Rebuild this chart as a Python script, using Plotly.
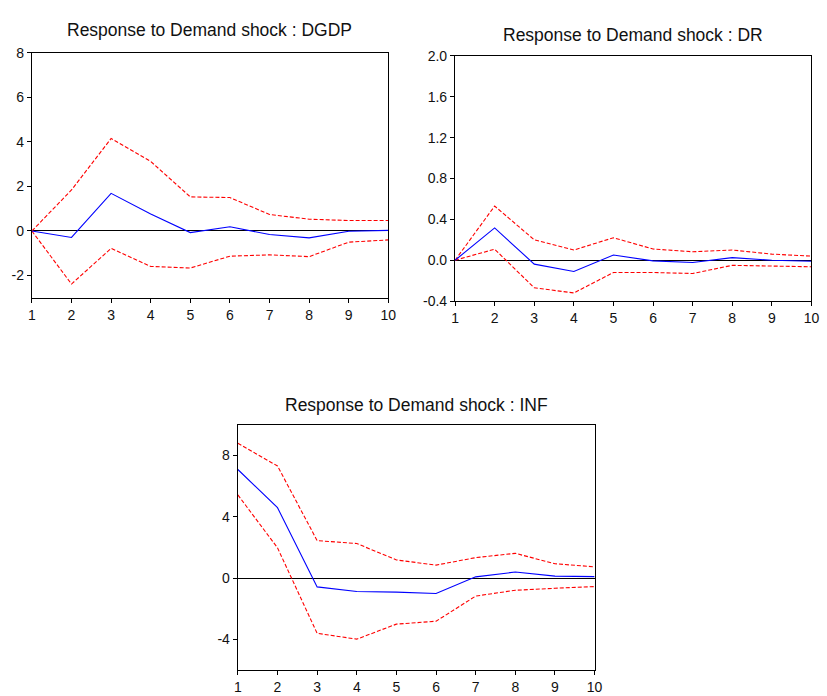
import plotly.graph_objects as go

periods = [1, 2, 3, 4, 5, 6, 7, 8, 9, 10]

dgdp_resp = [0.0, -0.29, 1.69, 0.76, -0.07, 0.19, -0.16, -0.31, -0.01, 0.03]
dgdp_upper = [0.0, 1.84, 4.15, 3.12, 1.53, 1.50, 0.74, 0.53, 0.47, 0.47]
dgdp_lower = [0.0, -2.38, -0.78, -1.59, -1.66, -1.13, -1.07, -1.15, -0.50, -0.40]

dr_resp = [0.0, 0.316, -0.038, -0.11, 0.051, -0.006, -0.022, 0.025, 0.0, -0.01]
dr_upper = [0.0, 0.53, 0.20, 0.10, 0.22, 0.11, 0.083, 0.10, 0.06, 0.04]
dr_lower = [0.0, 0.108, -0.27, -0.32, -0.12, -0.12, -0.13, -0.05, -0.057, -0.064]

inf_resp = [7.09, 4.60, -0.57, -0.87, -0.91, -1.00, 0.085, 0.40, 0.13, 0.10]
inf_upper = [8.80, 7.32, 2.45, 2.26, 1.19, 0.85, 1.34, 1.62, 0.94, 0.74]
inf_lower = [5.43, 1.98, -3.60, -3.98, -3.00, -2.81, -1.17, -0.79, -0.66, -0.55]

titles = ["Response to Demand shock : DGDP",
          "Response to Demand shock : DR",
          "Response to Demand shock : INF"]

W, H = 827, 696
FONT = "Arial, Liberation Sans, sans-serif"

panels = [
    dict(resp=dgdp_resp, up=dgdp_upper, lo=dgdp_lower,
         x0=28.3, x1=390.0, top=45.7, bot=296.7, yr=[-3, 8],
         tv=[-2, 0, 2, 4, 6, 8], tt=["-2", "0", "2", "4", "6", "8"],
         tx=209, ty=23.0),
    dict(resp=dr_resp, up=dr_upper, lo=dr_lower,
         x0=457.7, x1=819.3, top=49.0, bot=300.0, yr=[-0.4, 2.0],
         tv=[-0.4, 0.0, 0.4, 0.8, 1.2, 1.6, 2.0],
         tt=["-0.4", "0.0", "0.4", "0.8", "1.2", "1.6", "2.0"],
         tx=638, ty=28.0),
    dict(resp=inf_resp, up=inf_upper, lo=inf_lower,
         x0=237.3, x1=599.3, top=426.7, bot=677.7, yr=[-6, 10],
         tv=[-4, 0, 4, 8], tt=["-4", "0", "4", "8"],
         tx=419, ty=406.0),
]

fig = go.Figure()
annotations = []
for i, p in enumerate(panels):
    n = "" if i == 0 else str(i + 1)
    xa, ya = "x" + n, "y" + n
    for ys, color, dash in [(p["up"], "#FF0000", "4px,2px"),
                            (p["lo"], "#FF0000", "4px,2px"),
                            (p["resp"], "#0000FF", "solid")]:
        fig.add_trace(go.Scatter(x=periods, y=ys, mode="lines", xaxis=xa, yaxis=ya,
                                 line=dict(color=color, width=1.1, dash=dash),
                                 showlegend=False, hoverinfo="skip"))
    axis_common = dict(showline=True, linecolor="black", linewidth=1.3, mirror=True,
                       showgrid=False, ticks="outside", ticklen=4, tickwidth=1,
                       tickcolor="black",
                       tickfont=dict(family=FONT, size=14, color="#111111"))
    fig.layout["xaxis" + n] = dict(
        domain=[p["x0"] / W, p["x1"] / W], anchor=ya, range=[1, 10],
        tickvals=periods, ticktext=[str(v) for v in periods], zeroline=False,
        **axis_common)
    fig.layout["yaxis" + n] = dict(
        domain=[1 - p["bot"] / H, 1 - p["top"] / H], anchor=xa, range=p["yr"],
        tickvals=p["tv"], ticktext=p["tt"], zeroline=True, zerolinecolor="black",
        zerolinewidth=1, **axis_common)
    annotations.append(dict(text=titles[i], x=p["tx"] / W, y=1 - p["ty"] / H,
                            xref="paper", yref="paper", xanchor="center",
                            yanchor="middle", showarrow=False,
                            font=dict(family=FONT, size=17.5, color="#111111")))

fig.update_layout(width=W, height=H, margin=dict(l=0, r=0, t=0, b=0),
                  paper_bgcolor="white", plot_bgcolor="white",
                  annotations=annotations, showlegend=False)

fig.write_html("out.html")
